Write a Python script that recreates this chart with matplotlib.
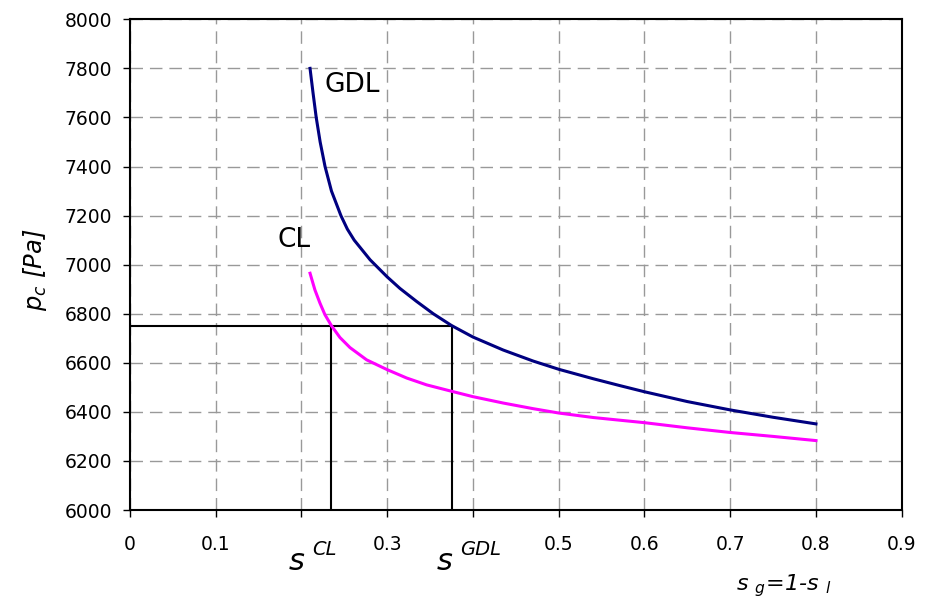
import matplotlib
matplotlib.use("Agg")
from matplotlib import pyplot as plt

# GDL and CL capillary pressure curves
gdl_s = [0.2100, 0.2135, 0.2172, 0.2218, 0.2275, 0.2350, 0.2460, 0.2535, 0.2615,
         0.2800, 0.3000, 0.3149, 0.3343, 0.3537, 0.3750, 0.4000, 0.4353, 0.4703,
         0.5006, 0.5403, 0.5714, 0.6000, 0.6500, 0.7000, 0.7500, 0.8000]
gdl_pc = [7800, 7700, 7600, 7500, 7400, 7300, 7200, 7145, 7100,
          7020, 6950, 6903, 6850, 6800, 6752, 6705, 6652, 6607,
          6573, 6535, 6507, 6482, 6442, 6408, 6378, 6351]

cl_s = [0.2100, 0.2157, 0.2216, 0.2274, 0.2352, 0.2449, 0.2566, 0.2760, 0.3000,
        0.3227, 0.3460, 0.3750, 0.4000, 0.4353, 0.4703, 0.5006, 0.5403, 0.5714,
        0.6000, 0.6500, 0.7000, 0.7500, 0.8000]
cl_pc = [6965, 6897, 6843, 6796, 6750, 6703, 6662, 6612, 6572,
         6538, 6510, 6484, 6462, 6436, 6413, 6395, 6377, 6366,
         6356, 6335, 6316, 6300, 6283]

# equilibrium pressure and the matching saturations
pc_eq = 6750
s_cl = 0.235
s_gdl = 0.375

x_ticks = [0, 0.1, 0.2, 0.3, 0.4, 0.5, 0.6, 0.7, 0.8, 0.9]
x_labels = ["0", "0.1", "", "0.3", "", "0.5", "0.6", "0.7", "0.8", "0.9"]
y_ticks = list(range(6000, 8001, 200))

plt.rcParams["font.family"] = ["DejaVu Sans"]
plt.rcParams["mathtext.fontset"] = "dejavusans"

fig = plt.figure(figsize=(9.29, 6.03), dpi=100)
ax = fig.add_axes([0.1399, 0.1542, 0.8307, 0.8138])

ax.plot(gdl_s, gdl_pc, color="#000080", lw=2.2, zorder=3)
ax.plot(cl_s, cl_pc, color="#ff00ff", lw=2.2, zorder=3)

# construction lines
ax.plot([0, s_gdl], [pc_eq, pc_eq], color="black", lw=1.5, zorder=2)
ax.plot([s_cl, s_cl], [6000, pc_eq], color="black", lw=1.5, zorder=2)
ax.plot([s_gdl, s_gdl], [6000, pc_eq], color="black", lw=1.5, zorder=2)

ax.set_xlim(0, 0.9)
ax.set_ylim(6000, 8000)
ax.set_xticks(x_ticks)
ax.set_xticklabels(x_labels)
ax.set_yticks(y_ticks)
ax.grid(True, color="#999999", lw=1.0, linestyle=(0, (9, 5)))
ax.set_axisbelow(True)
for sp in ax.spines.values():
    sp.set_linewidth(1.5)
    sp.set_color("black")
ax.tick_params(axis="x", direction="out", length=5, width=1, labelsize=13.5, pad=13)
ax.tick_params(axis="y", direction="out", length=5, width=1, labelsize=13.5, pad=8)

ax.text(0.2274, 7705, "GDL", fontsize=19, ha="left", va="baseline")
ax.text(0.1726, 7073, "CL", fontsize=19, ha="left", va="baseline")

# s^CL and s^GDL under the x axis
ax.text(0.1948, 5757, "s", fontsize=22, style="italic", ha="center", va="baseline")
ax.text(0.2122, 5818, "CL", fontsize=14, style="italic", ha="left", va="baseline")
ax.text(0.3673, 5757, "s", fontsize=22, style="italic", ha="center", va="baseline")
ax.text(0.3848, 5818, "GDL", fontsize=14, style="italic", ha="left", va="baseline")

fig.text(736 / 929, 1 - 590 / 603, "s $_g$=1-s $_l$", fontsize=16, style="italic",
         ha="left", va="baseline")
fig.text(35 / 929, 1 - 270 / 603, "$p_c$ [Pa]", fontsize=17.5, style="italic",
         rotation=90, ha="center", va="center")

fig.savefig("out.png", dpi=100)
